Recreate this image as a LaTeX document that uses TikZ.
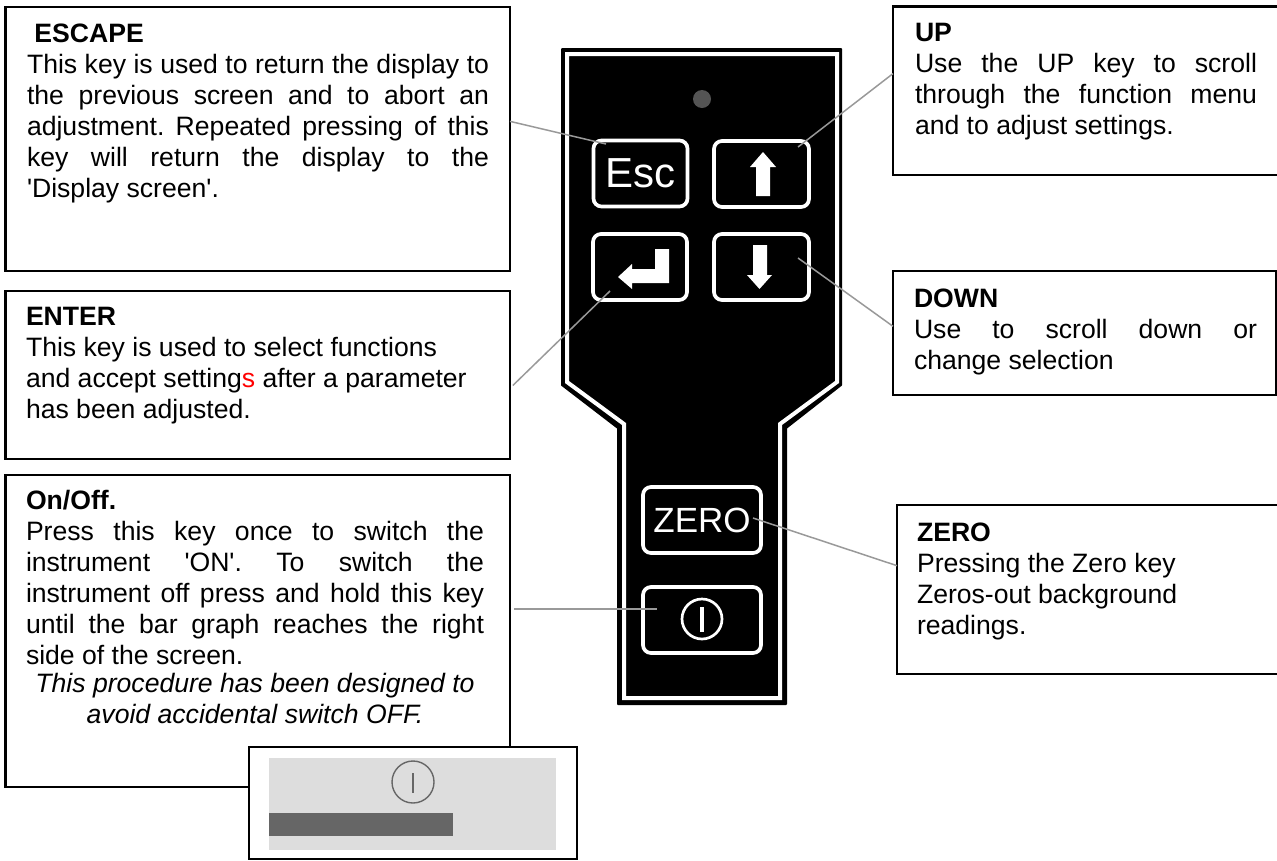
\documentclass[tikz,border=0pt]{standalone}
\usepackage{fontspec}
\setmainfont{Liberation Sans}
\newcommand{\bodyfont}{\fontsize{26.6}{31}\selectfont}
\newcommand{\q}{\textquotesingle}
% total width, total height, left pad, text width, top gap, content
\newcommand{\boxtext}[6]{\makebox[#1pt][l]{\hspace*{#3pt}\begin{minipage}[c][#2pt][t]{#4pt}\bodyfont\sloppy\frenchspacing\parindent=0pt\vspace*{#5pt}\rule{0pt}{21.5pt}#6\end{minipage}}}
\definecolor{leadgrey}{HTML}{999999}
\tikzset{
  callout/.style={draw=black,line width=2.5pt,fill=white,inner sep=0pt,outer sep=0pt,anchor=north west,align=left},
  keycap/.style={draw=white,line width=3.7pt,rounded corners=8pt,inner sep=0pt,text=white,font=\fontsize{42}{44}\selectfont},
  leadline/.style={draw=leadgrey,line width=1.5pt},
  glyph/.style={fill=white,draw=none},
}
\begin{document}
\begin{tikzpicture}[x=1pt,y=-1pt]
\useasboundingbox (0,0) rectangle (1277,860);
\clip (0,0) rectangle (1277,860);

% panel
\filldraw[black,line width=2pt,line join=round]
  (562,49) -- (841,49) -- (841,385) -- (786,428) -- (786,704) -- (618,704) -- (618,428) -- (562,385) -- cycle;
\draw[white,line width=4pt,line join=miter]
  (567,54) -- (837,54) -- (837,382) -- (780,424) -- (780,698) -- (624,698) -- (624,424) -- (567,382) -- cycle;
\node[circle,fill=black!67,inner sep=0pt,minimum size=18pt] (led) at (702,99) {};

% keys
\node[keycap,minimum width=94pt,minimum height=66pt] (keyesc) at (640.5,173.5) {Esc};
\node[keycap,minimum width=95pt,minimum height=66pt] (keyup) at (761.5,174) {};
\node[keycap,minimum width=94pt,minimum height=66pt] (keyenter) at (640,267) {};
\node[keycap,minimum width=95pt,minimum height=66pt] (keydown) at (761.5,267) {};
\node[keycap,minimum width=118pt,minimum height=66pt,font=\fontsize{35}{37}\selectfont] (keyzero) at (702,520) {ZERO};
\node[keycap,minimum width=118pt,minimum height=66pt] (keypower) at (702,620) {};

% key glyphs
\fill[glyph] (763,152) -- (776,167) -- (770,167) -- (770,196) -- (756,196) -- (756,167) -- (750,167) -- cycle;
\fill[glyph] (759.5,289) -- (772,275) -- (767,275) -- (767,245) -- (753,245) -- (753,275) -- (747,275) -- cycle;
\fill[glyph] (618,277) -- (632,264) -- (632,269) -- (655,269) -- (655,249) -- (669,249) -- (669,283) -- (632,283) -- (632,289) -- cycle;
\draw[white,line width=2.7pt] (702,619) circle[radius=20];
\draw[white,line width=3.5pt] (702,607) -- (702,632);

% callouts
\node[callout] (escbox) at (5.5,7) {\boxtext{504.5}{264}{21.5}{462}{13.6}{\hspace*{7.4pt}\textbf{ESCAPE}\par
This key is used to return the display to\linebreak
the previous screen and to abort an\linebreak
adjustment. Repeated pressing of this\linebreak
key will return the display to the\linebreak
\q Display screen\q.}};

\node[callout] (enterbox) at (5.5,291) {\boxtext{504.5}{168}{20.5}{470}{12.9}{\textbf{ENTER}\par
This key is used to select functions\par
and accept setting\textcolor{red}{s} after a parameter\par
has been adjusted.}};

\node[callout] (onbox) at (5.5,475) {\boxtext{504.5}{312}{20.5}{458}{12.9}{\textbf{On/Off.}\par
Press this key once to switch the\linebreak
instrument \q ON\q. To switch the\linebreak
instrument off press and hold this key\linebreak
until the bar graph reaches the right\linebreak
side of the screen.\par\vspace{-2.5pt}
{\centering\itshape This procedure has been designed to\par
avoid accidental switch OFF.\par}}};

\node[callout] (upbox) at (893,6.5) {\boxtext{392}{168.5}{22}{342}{13.9}{\textbf{UP}\par
Use the UP key to scroll\linebreak
through the function menu\linebreak
and to adjust settings.}};

\node[callout] (downbox) at (893,271) {\boxtext{383}{124}{21}{343}{14.9}{\textbf{DOWN}\par
Use to scroll down or\linebreak
change selection}};

\node[callout] (zerobox) at (897,505) {\boxtext{388}{169}{20}{340}{14.9}{\textbf{ZERO}\par
Pressing the Zero key\par
Zeros-out background\par
readings.}};

% lead end points on the keys
\coordinate (escend) at (606,144);
\coordinate (enterend) at (610,291);
\coordinate (powerend) at (657,609);
\coordinate (upend) at (798,147);
\coordinate (downend) at (798,258);
\coordinate (zeroend) at (753,518);

% connectors
\draw[leadline] (escbox.4.15) -- (escend);
\draw[leadline,shorten <=4pt] (enterbox.-3.2) -- (enterend);
\draw[leadline,shorten <=4pt] (onbox.east |- powerend) -- (powerend);
\draw[leadline] (upbox.175.7) -- (upend);
\draw[leadline] (downbox.178.3) -- (downend);
\draw[leadline] (zerobox.173.1) -- (zeroend);

% small screen inset
\node[draw=black,line width=2pt,fill=white,inner sep=0pt,minimum width=328pt,minimum height=112pt] (inset) at (413,803) {};
\fill[black!13.5] (269,758) rectangle (556,850);
\fill[black!60] (269,813) rectangle (453,836);
\draw[black!60,line width=1.4pt] (413,782) circle[radius=21];
\draw[black!60,line width=1.4pt] (413,773) -- (413,793);
\end{tikzpicture}
\end{document}
